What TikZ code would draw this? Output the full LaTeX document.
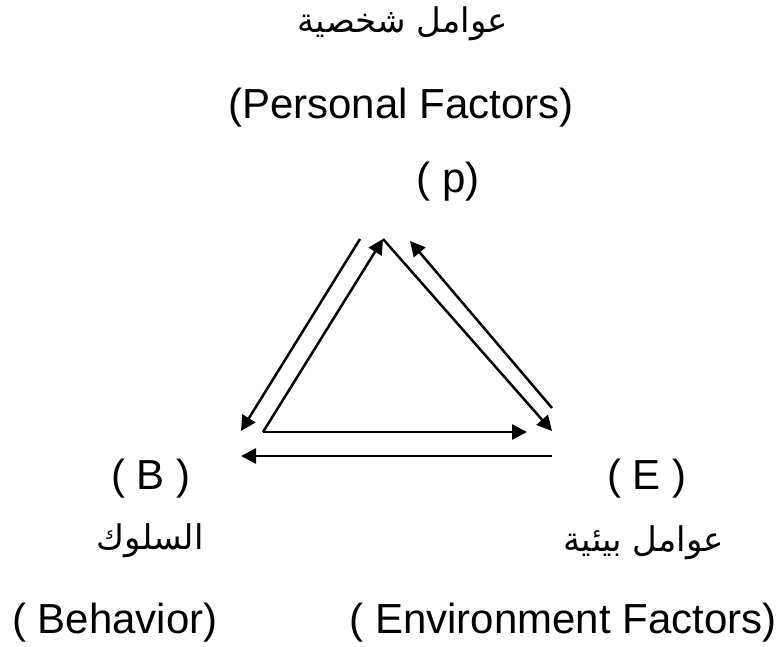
\documentclass[tikz,border=0pt]{standalone}
\usepackage{fontspec}
\setmainfont{Liberation Sans}
\newfontfamily\arabicfont[Script=Arabic]{DejaVu Sans}
\TeXXeTstate=1
\usepackage{tikz}
\usetikzlibrary{arrows.meta, positioning}
\tikzset{
  latin/.style={
    inner sep=0pt, text centered,
    font=\fontsize{42}{50}\selectfont,
  },
  arabic/.style={
    inner sep=0pt, text centered,
    font=\fontsize{34}{40}\selectfont\arabicfont,
  },
  link/.style={-{Triangle[length=15pt, width=15pt]}, line width=2.5pt, black},
}

\begin{document}
\begin{tikzpicture}[x=1pt, y=-1pt]
  \useasboundingbox (0,0) rectangle (784,646);

  % labels
  \node[arabic] (arP) at (403,24) {\beginR عوامل شخصية\endR};
  \node[latin] (nameP) at (401,108) {(Personal Factors)};
  \node[latin] (P) at (448,182) {( p)};
  \node[latin] (B) at (151,479) {( B )};
  \node[latin] (E) at (647,479) {( E )};
  \node[arabic] (arB) at (150,541) {\beginR السلوك\endR};
  \node[arabic] (arE) at (644,543) {\beginR عوامل بيئية\endR};
  \node[latin] (nameB) at (115,623) {( Behavior)};
  \node[latin] (nameE) at (563,623) {( Environment Factors)};

  % corners of the triangle
  \coordinate (apex) at (383,239);
  \coordinate (baseL) at (263,432);
  \coordinate (baseR) at (552,431);
  \coordinate (baseM) at (527,432);
  \coordinate (outL1) at (360,239);
  \coordinate (outL2) at (241,431);
  \coordinate (outR1) at (552,408);
  \coordinate (outR2) at (410,241);
  \coordinate (outB1) at (552,456);
  \coordinate (outB2) at (241,456);

  \draw[link] (baseL) -- (apex);
  \draw[link] (apex) -- (baseR);
  \draw[link] (baseL) -- (baseM);
  \draw[link] (outL1) -- (outL2);
  \draw[link] (outR1) -- (outR2);
  \draw[link] (outB1) -- (outB2);

\end{tikzpicture}
\end{document}
